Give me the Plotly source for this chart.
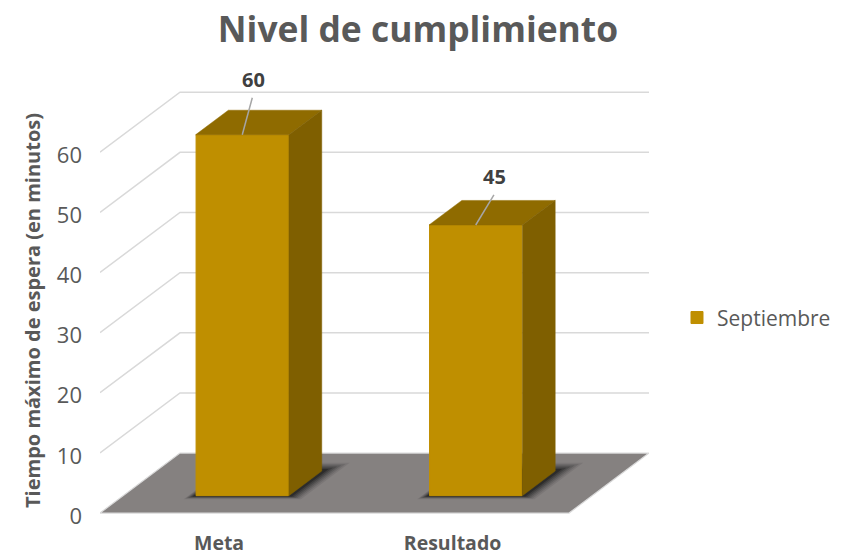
import plotly.graph_objects as go

TITLE = "Nivel de cumplimiento"
Y_TITLE = "Tiempo máximo de espera (en minutos)"
SERIES = "Septiembre"
categories = ["Meta", "Resultado"]
values = [60, 45]
y_ticks = [0, 10, 20, 30, 40, 50, 60]

FRONT, TOP, SIDE = "#BF8F00", "#8F6B00", "#7F5F00"
FLOOR, GRID, TEXT, LABEL = "#858180", "#D9D9D9", "#595959", "#404040"
FONT = "Open Sans"

# oblique projection (data units per full chart depth)
PX_X, PX_Y = 233.5, 6.02
DX, DY = 80 / PX_X, 60 / PX_Y
X0, X1 = -0.51, 1.499
F0, F1 = 0.29, 0.70
BW = 0.4
pos = list(range(len(categories)))


def P(x, v, f):
    return x + f * DX, v + f * DY


def path(pts):
    return "M" + " L".join(f"{a},{b}" for a, b in pts) + " Z"


shapes = []
# floor
shapes.append(dict(type="path", xref="x", yref="y", layer="below",
                   path=path([P(X0, 0, 0), P(X1, 0, 0), P(X1, 0, 1), P(X0, 0, 1)]),
                   fillcolor=FLOOR, line=dict(color=GRID, width=1.2)))
# walls' gridlines
for t in y_ticks[1:]:
    a, b, c = P(X0, t, 0), P(X0, t, 1), P(X1, t, 1)
    shapes.append(dict(type="path", xref="x", yref="y", layer="below",
                       path=f"M{a[0]},{a[1]} L{b[0]},{b[1]} L{c[0]},{c[1]}",
                       line=dict(color=GRID, width=1.5)))
# soft shadow at the foot of each bar
for c in pos:
    for grow, alpha in [(1.0, 0.08), (0.85, 0.1), (0.7, 0.13), (0.55, 0.16), (0.4, 0.2), (0.25, 0.28)]:
        gx, gv, gf = 12 * grow / PX_X, 3.5 * grow / PX_Y, 0.14 * grow
        l, r = c - BW / 2 - gx, c + BW / 2 + gx
        pts = [P(l, -gv, F0), P(r, -gv, F0), P(r + gx * 0.4, 0, F1 + gf), P(l + gx * 0.4, 0, F1 + gf)]
        shapes.append(dict(type="path", xref="x", yref="y", layer="below", path=path(pts),
                           fillcolor=f"rgba(0,0,0,{alpha})", line=dict(width=0)))

fig = go.Figure()
bar_x = [P(c, 0, F0)[0] for c in pos]
fig.add_trace(go.Bar(x=bar_x, y=values, base=F0 * DY, width=BW - 1 / PX_X, name=SERIES, marker_color=FRONT,
                     marker_line=dict(width=1, color=FRONT), hoverinfo="skip", showlegend=True))

for c, v in zip(pos, values):
    l, r = c - BW / 2, c + BW / 2
    top = [P(l, v, F0), P(r, v, F0), P(r, v, F1), P(l, v, F1), P(l, v, F0)]
    side = [P(r, 0, F0), P(r, 0, F1), P(r, v, F1), P(r, v, F0), P(r, 0, F0)]
    for pts, col in ((top, TOP), (side, SIDE)):
        fig.add_trace(go.Scatter(x=[p[0] for p in pts], y=[p[1] for p in pts], mode="lines",
                                 fill="toself", fillcolor=col, line=dict(color=col, width=0.5),
                                 hoverinfo="skip", showlegend=False))

# leader lines and value labels
leader_dx = [0.043, 0.078]
leader_dv = [6.15, 5.0]
label_dx = [0.05, 0.079]
label_dv = [9.0, 7.95]
annotations = []
for c, v, bx, ldx, ldv, tdx, tdv in zip(pos, values, bar_x, leader_dx, leader_dv, label_dx, label_dv):
    base_v = v + F0 * DY
    fig.add_trace(go.Scatter(x=[bx, bx + ldx], y=[base_v, base_v + ldv], mode="lines",
                             line=dict(color="#A6A6A6", width=1.5), hoverinfo="skip", showlegend=False))
    annotations.append(dict(x=bx + tdx, y=base_v + tdv, yshift=1, xref="x", yref="y", text=f"<b>{v}</b>",
                            showarrow=False, font=dict(family=FONT, size=20, color=LABEL)))

fig.update_layout(
    width=843, height=555, autosize=False,
    margin=dict(l=100, r=194, t=80.06, b=13.5, autoexpand=False),
    paper_bgcolor="white", plot_bgcolor="white",
    font=dict(family=FONT, color=TEXT),
    title=dict(text=TITLE, x=418 / 843, xanchor="center", y=1 - 29.5 / 555, yanchor="middle",
               font=dict(family=FONT, size=35.4, color=TEXT, weight=700)),
    shapes=shapes, annotations=annotations,
    legend=dict(x=1.051, y=0.484, xanchor="left", yanchor="middle",
                font=dict(family=FONT, size=21, color=TEXT), bgcolor="rgba(0,0,0,0)"),
    xaxis=dict(range=[X0, (649 - 219) / PX_X], tickvals=pos, ticktext=categories, showgrid=False,
               zeroline=False, showline=False, ticks="", ticklabelstandoff=-12, automargin=False,
               tickfont=dict(family=FONT, size=19.5, color=TEXT, weight=700)),
    yaxis=dict(range=[-4.65, 72], tickvals=y_ticks, showgrid=False, zeroline=False, showline=False,
               ticks="", ticklabelstandoff=17, ticklabelshift=3, automargin=False,
               tickfont=dict(family=FONT, size=22, color=TEXT),
               title=dict(text=Y_TITLE, standoff=10, font=dict(family=FONT, size=20, color=TEXT, weight=700))),
    barmode="overlay",
)
fig.write_html("out.html", config=dict(displayModeBar=False),
               post_script="document.body.style.margin='0';")
